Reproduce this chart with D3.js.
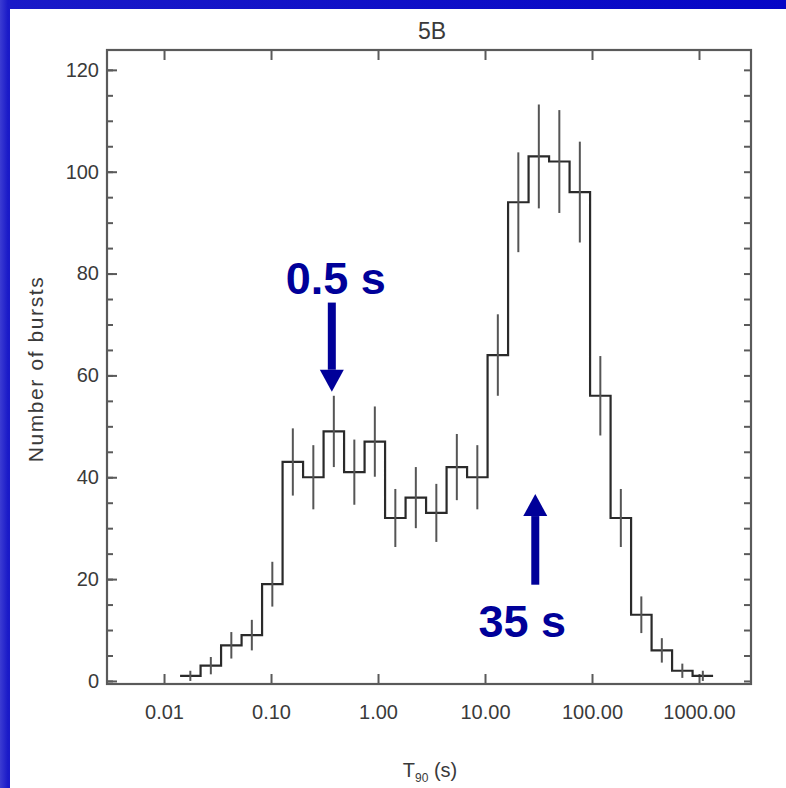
<!DOCTYPE html>
<html>
<head>
  <title>T90 distribution</title>
  <script src="https://cdn.jsdelivr.net/npm/d3@7/dist/d3.min.js"></script>
  <style type="text/css">
    html, body { margin: 0; padding: 0; background: #0a0ac4; }
    svg { display: block; }
    .tick text { font-family: "Liberation Sans", Arial, sans-serif; font-size: 20px; fill: #3a3a3a; }
  </style>
</head>
<body>
  <div id="svg"></div>
  <script type="text/javascript">
    // counts per log-T90 bin
    var counts = [1, 3, 7, 9, 19, 43, 40, 49, 41, 47, 32, 36, 33, 42, 40, 64, 94, 103, 102, 96, 56, 32, 13, 6, 2, 1];
    // error bar half-lengths (counts)
    var errors = [1, 1.7, 2.6, 3, 4.4, 6.6, 6.3, 7, 6.4, 6.9, 5.7, 6, 5.7, 6.5, 6.3, 8, 9.8, 10.2, 10.1, 9.9, 7.8, 5.7, 3.6, 2.4, 1.4, 1];
    var firstEdgeLog = -1.85;   // log10 of the left edge of the first bin
    var binWidthLog = 0.1916;   // bin width in dex
    var xTicks = [0.01, 0.1, 1, 10, 100, 1000];
    var yTicks = [0, 20, 40, 60, 80, 100, 120];
    var yMinor = d3.range(0, 125, 5);
    // annotation arrows: x position (s), tail and tip heights (bursts)
    var arrows = [
      {label: '0.5 s', t: 0.37, tail: 74.3, tip: 56.8},
      {label: '35 s', t: 29.5, tail: 18.9, tip: 36.7}
    ];

    var W = 786, H = 788;
    // plot frame (note: "top" is reserved on window, so use pl/pr/pt/pb)
    var pl = 107, pr = 751, pt = 50, pb = 684;

    var svg = d3.select('#svg')
      .append('svg')
      .attr('width', W)
      .attr('height', H);

    // blue slide background + white panel
    var grad = svg.append('defs').append('linearGradient')
      .attr('id', 'bg').attr('x1', 0).attr('x2', 1).attr('y1', 0).attr('y2', 0);
    grad.append('stop').attr('offset', '0').attr('stop-color', '#3c3cd2');
    grad.append('stop').attr('offset', '0.01').attr('stop-color', '#1a1ac8');
    grad.append('stop').attr('offset', '1').attr('stop-color', '#0606c6');
    svg.append('rect').attr('width', W).attr('height', H).attr('fill', 'url(#bg)');
    svg.append('rect').attr('x', 10).attr('y', 9).attr('width', W - 10).attr('height', H - 9).attr('fill', '#ffffff');

    var x = d3.scaleLog().domain([Math.pow(10, -2.533), Math.pow(10, 3.486)]).range([pl, pr]);
    var y = d3.scaleLinear().domain([-0.6, 123.9]).range([pb, pt]);

    var edge = function(i) { return Math.pow(10, firstEdgeLog + i * binWidthLog); };
    var centre = function(i) { return Math.pow(10, firstEdgeLog + (i + 0.5) * binWidthLog); };

    // axes (ticks pointing inward)
    var axisColor = '#5a5a5a';
    var fmt = function(d) { return d.toFixed(2); };

    var gb = svg.append('g').attr('transform', 'translate(0,' + pb + ')')
      .call(d3.axisBottom(x).tickValues(xTicks).tickSize(-10).tickPadding(21).tickFormat(fmt));
    var gt = svg.append('g').attr('transform', 'translate(0,' + pt + ')')
      .call(d3.axisTop(x).tickValues(xTicks).tickSize(-10).tickFormat(''));
    var gl = svg.append('g').attr('transform', 'translate(' + pl + ',0)')
      .call(d3.axisLeft(y).tickValues(yTicks).tickSize(-10).tickPadding(8));
    var glm = svg.append('g').attr('transform', 'translate(' + pl + ',0)')
      .call(d3.axisLeft(y).tickValues(yMinor).tickSize(-6).tickFormat(''));
    var gr = svg.append('g').attr('transform', 'translate(' + pr + ',0)')
      .call(d3.axisRight(y).tickValues(yMinor).tickSize(-7).tickFormat(''));

    [gb, gt, gl, glm, gr].forEach(function(g) {
      g.select('.domain').remove();
      g.selectAll('.tick line').attr('stroke', axisColor).attr('stroke-width', 2);
    });

    svg.append('rect')
      .attr('x', pl).attr('y', pt)
      .attr('width', pr - pl).attr('height', pb - pt)
      .attr('fill', 'none').attr('stroke', axisColor).attr('stroke-width', 2.2);

    // histogram steps
    var pts = [];
    counts.forEach(function(c, i) {
      pts.push([x(edge(i)), y(c)]);
      pts.push([x(edge(i + 1)), y(c)]);
    });
    svg.append('path')
      .attr('d', d3.line()(pts))
      .attr('fill', 'none')
      .attr('stroke', '#2a2a2a')
      .attr('stroke-width', 2.2);

    // error bars
    svg.selectAll('line.err')
      .data(counts)
      .enter()
      .append('line')
      .attr('class', 'err')
      .attr('x1', function(d, i) { return x(centre(i)); })
      .attr('x2', function(d, i) { return x(centre(i)); })
      .attr('y1', function(d, i) { return y(d - errors[i]); })
      .attr('y2', function(d, i) { return y(d + errors[i]); })
      .attr('stroke', '#555')
      .attr('stroke-width', 2);

    // titles
    var font = '"Liberation Sans", Arial, sans-serif';
    svg.append('text')
      .attr('x', 432).attr('y', 39)
      .attr('text-anchor', 'middle')
      .style('font-family', font).style('font-size', '23px').style('fill', '#3a3a3a')
      .text('5B');

    var xl = svg.append('text')
      .attr('x', 430).attr('y', 777)
      .attr('text-anchor', 'middle')
      .style('font-family', font).style('font-size', '20px').style('fill', '#3a3a3a');
    xl.append('tspan').text('T');
    xl.append('tspan').attr('dy', 5).style('font-size', '12px').text('90');
    xl.append('tspan').attr('dy', -5).text(' (s)');

    svg.append('text')
      .attr('transform', 'translate(43,369) rotate(-90)')
      .attr('text-anchor', 'middle')
      .style('font-family', font).style('font-size', '21px').style('fill', '#3a3a3a')
      .style('letter-spacing', '1.6px')
      .text('Number of bursts');

    // annotation arrows
    var navy = '#000099';
    arrows.forEach(function(a) {
      var ax = x(a.t);
      var yTail = y(a.tail), yTip = y(a.tip);
      var dirn = yTip > yTail ? 1 : -1;      // +1 pointing down
      var yBase = yTip - dirn * 22;           // base of arrow head
      var g = svg.append('g').attr('fill', navy);
      g.append('rect')
        .attr('x', ax - 4).attr('y', Math.min(yTail, yBase))
        .attr('width', 8).attr('height', Math.abs(yBase - yTail));
      g.append('path').attr('d', d3.line()([[ax - 12, yBase], [ax + 12, yBase], [ax, yTip]]) + 'Z');
      g.append('text')
        .attr('x', dirn > 0 ? ax + 4 : ax - 13)
        .attr('y', dirn > 0 ? yTail - 9 : yTail + 52)
        .attr('text-anchor', 'middle')
        .style('font-family', font).style('font-weight', 'bold').style('font-size', '45px')
        .text(a.label);
    });
  </script>
</body>
</html>
